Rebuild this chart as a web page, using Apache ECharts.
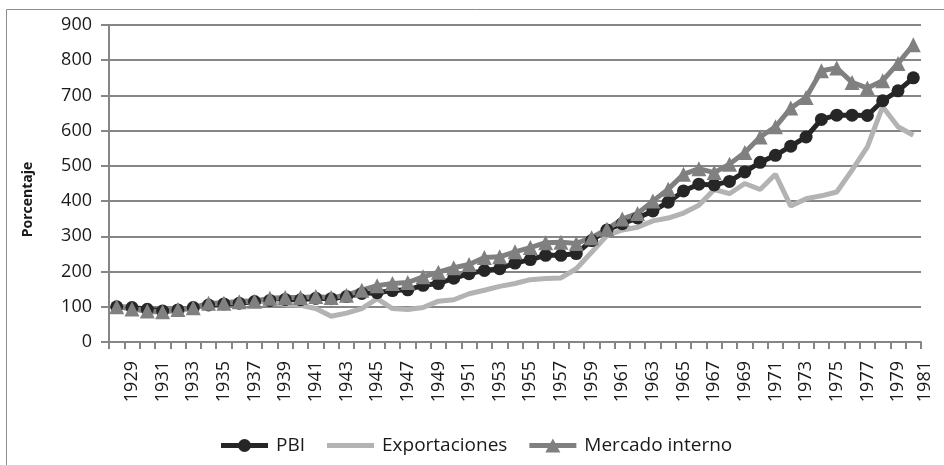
<!DOCTYPE html>
<html>
<head>
<meta charset="utf-8">
<script src="https://cdn.jsdelivr.net/npm/echarts@6/dist/echarts.min.js"></script>
<style>
html,body{margin:0;padding:0;background:#fff;}
#chart{width:944px;height:465px;}
</style>
</head>
<body>
<div id="chart"></div>
<script>
const years = ['1928','1929','1930','1931','1932','1933','1934','1935','1936','1937','1938','1939','1940',
  '1941','1942','1943','1944','1945','1946','1947','1948','1949','1950','1951','1952','1953','1954','1955',
  '1956','1957','1958','1959','1960','1961','1962','1963','1964','1965','1966','1967','1968','1969','1970',
  '1971','1972','1973','1974','1975','1976','1977','1978','1979','1980'];
const extraLabel = '1981';

const pbi = [100,98,93,88,91,98,105,108,110,115,118,121,120,
  124,123,129,138,140,146,148,161,166,181,194,203,208,224,234,
  246,246,251,288,318,336,352,372,397,429,448,446,456,483,510,
  530,556,582,632,644,644,643,685,713,750];

const exportaciones = [100,96,86,85,88,96,108,112,116,118,114,106,104,
  95,73,82,95,123,95,92,98,116,120,137,147,158,166,177,
  180,182,208,255,302,318,326,344,352,366,388,433,421,450,433,
  476,386,407,415,426,488,554,668,611,587];

const mercadoInterno = [100,94,88,86,92,97,110,110,114,116,124,126,126,
  129,126,133,147,160,166,169,185,198,211,220,240,242,256,268,
  282,283,280,296,320,349,365,400,434,476,492,481,505,538,582,
  611,664,694,770,778,737,721,742,791,844];

const yTicks = {min: 0, max: 900, interval: 100};

const FONT = '"Open Sans", "Liberation Sans", sans-serif';
const ICON_LINE = 'M0,4.5H47V9.5H0Z';
const ICON_PBI = 'path://' + ICON_LINE + ' M17,7A6.5,6.5,0,1,1,30,7A6.5,6.5,0,1,1,17,7Z';
const ICON_EXP = 'path://' + ICON_LINE;
const ICON_MER = 'path://' + ICON_LINE + ' M23.5,0L31,14H16Z';

const chart = echarts.init(document.getElementById('chart'), null, {renderer: 'canvas'});

const option = {
  animation: false,
  backgroundColor: '#ffffff',
  grid: {left: 109, right: 23, top: 25, bottom: 123, containLabel: false},
  legend: {
    data: [
      {name: 'PBI', icon: ICON_PBI},
      {name: 'Exportaciones', icon: ICON_EXP},
      {name: 'Mercado interno', icon: ICON_MER}
    ],
    left: 216,
    top: 431,
    itemWidth: 47,
    itemHeight: 14,
    itemGap: 22,
    textStyle: {fontFamily: FONT, fontSize: 19, color: '#1a1a1a', padding: [0, 0, 0, 3]}
  },
  xAxis: {
    type: 'category',
    data: years,
    boundaryGap: true,
    axisLine: {lineStyle: {color: '#868686', width: 2}},
    axisTick: {show: true, interval: 0, length: 7, lineStyle: {color: '#868686', width: 2}},
    axisLabel: {
      rotate: 90,
      interval: function (i) { return i % 2 === 1; },
      margin: 19,
      fontFamily: FONT, fontSize: 18, color: '#1a1a1a'
    },
    splitLine: {show: false}
  },
  yAxis: {
    type: 'value',
    min: yTicks.min, max: yTicks.max, interval: yTicks.interval,
    name: 'Porcentaje',
    nameLocation: 'middle',
    nameGap: 74,
    nameRotate: 90,
    nameTextStyle: {fontFamily: FONT, fontSize: 14, fontWeight: 'bold', color: '#1a1a1a', padding: [0, 32, 0, 0]},
    axisLine: {show: true, lineStyle: {color: '#868686', width: 2}},
    axisTick: {show: true, length: 8, lineStyle: {color: '#868686', width: 2}},
    axisLabel: {margin: 17, fontFamily: FONT, fontSize: 18, color: '#1a1a1a'},
    splitLine: {show: true, lineStyle: {color: '#868686', width: 2}}
  },
  series: [
    {
      name: 'PBI', type: 'line', data: pbi,
      symbol: 'circle', symbolSize: 13, showSymbol: true, showAllSymbol: true,
      lineStyle: {color: '#262626', width: 5},
      itemStyle: {color: '#262626'}
    },
    {
      name: 'Exportaciones', type: 'line', data: exportaciones,
      symbol: 'none', showSymbol: false,
      lineStyle: {color: '#b3b3b3', width: 5},
      itemStyle: {color: '#b3b3b3'}
    },
    {
      name: 'Mercado interno', type: 'line', data: mercadoInterno,
      symbol: 'triangle', symbolSize: 15, showSymbol: true, showAllSymbol: true,
      lineStyle: {color: '#808080', width: 5},
      itemStyle: {color: '#808080'}
    }
  ]
};
chart.setOption(option);

// extra trailing axis label and chart-area border
const pLast = chart.convertToPixel({xAxisIndex: 0}, years[years.length - 1]);
const pPrev = chart.convertToPixel({xAxisIndex: 0}, years[years.length - 2]);
const step = pLast - pPrev;
const axisY = chart.convertToPixel({yAxisIndex: 0}, 0);
chart.setOption({
  graphic: [
    {
      type: 'rect', silent: true,
      shape: {x: 6.5, y: 9.5, width: 960, height: 480},
      style: {fill: 'none', stroke: '#8c8c8c', lineWidth: 1}
    },
    {
      type: 'text', silent: true,
      x: pLast + step * 0.75, y: axisY + 19,
      rotation: Math.PI / 2,
      style: {text: extraLabel, fontFamily: FONT, fontSize: 18, fill: '#1a1a1a', align: 'right', verticalAlign: 'middle'}
    }
  ]
});
</script>
</body>
</html>
